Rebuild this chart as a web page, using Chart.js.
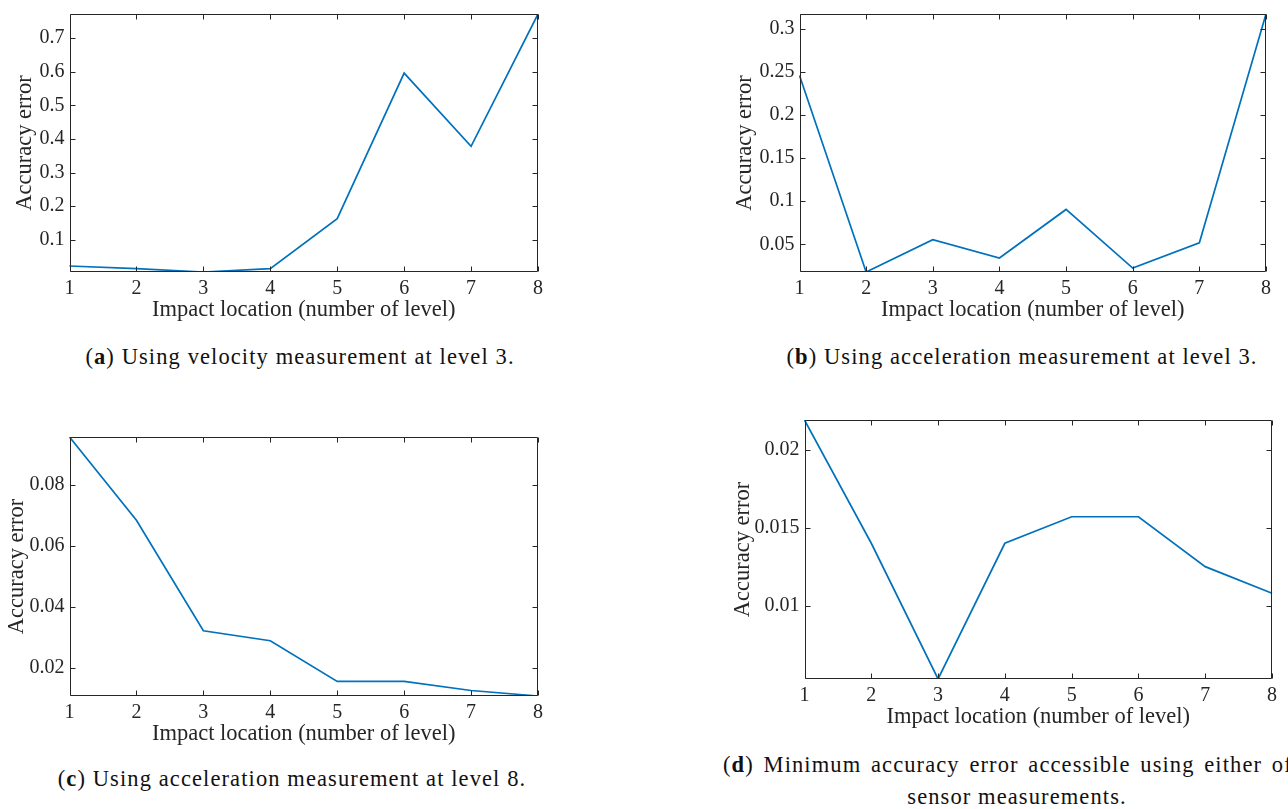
<!DOCTYPE html>
<html>
<head>
<meta charset="utf-8">
<script src="https://cdn.jsdelivr.net/npm/chart.js@4.4.0/dist/chart.umd.min.js"></script>
<style>
  html, body { margin:0; padding:0; background:#fff; width:1288px; height:809px; overflow:hidden; }
  #page { position:relative; width:1288px; height:809px; overflow:hidden; }
  #page canvas { position:absolute; }
  .cap { position:absolute; font-family:"Liberation Serif", serif; font-size:22.5px; letter-spacing:1.1px; color:#111; white-space:nowrap; line-height:26px; }
  .mid { transform:translateX(-50%); }
</style>
</head>
<body>
<div id="page">
  <canvas id="chartA"></canvas>
  <canvas id="chartB"></canvas>
  <canvas id="chartC"></canvas>
  <canvas id="chartD"></canvas>
  <div class="cap mid" style="left:300px;top:344px;">(<b>a</b>) Using velocity measurement at level 3.</div>
  <div class="cap mid" style="left:1022px;top:344px;">(<b>b</b>) Using acceleration measurement at level 3.</div>
  <div class="cap mid" style="left:292px;top:766px;">(<b>c</b>) Using acceleration measurement at level 8.</div>
  <div class="cap" style="left:723px;top:752px;word-spacing:3px;">(<b>d</b>) Minimum accuracy error accessible using either of</div>
  <div class="cap mid" style="left:1017px;top:784px;">sensor measurements.</div>
</div>
<script>
// ----- Data -----
const LEVELS = ['1','2','3','4','5','6','7','8'];
const ERR_VEL_L3 = [0.0218, 0.0139, 0.0040, 0.0139, 0.163, 0.596, 0.378, 0.772];
const ERR_ACC_L3 = [0.2458, 0.0180, 0.0554, 0.0342, 0.0905, 0.0226, 0.0519, 0.317];
const ERR_ACC_L8 = [0.0958, 0.0685, 0.0323, 0.0290, 0.0157, 0.0157, 0.0127, 0.0109];
const ERR_MIN    = [0.0219, 0.0140, 0.0053, 0.0140, 0.0157, 0.0157, 0.0125, 0.0108];
const Y_STEPS = [0.1, 0.05, 0.02, 0.005];

const X_TITLE = 'Impact location (number of level)';
const Y_TITLE = 'Accuracy error';

// ----- Layout (page pixels) -----
const FONT = '"Liberation Serif", "Times New Roman", serif';
const INK = '#262626';
const LINE = '#0072BD';
const TICK_SIZE = 20, TITLE_SIZE = 22.5;
const PAD_TOP = 20, PAD_RIGHT = 12, X_AXIS_H = 58;

// plot box [left, top, right, bottom] and y-title centre x
const PANELS = [
  { id:'chartA', data:ERR_VEL_L3, step:Y_STEPS[0], box:[69,14,538,272],  titleX:25 },
  { id:'chartB', data:ERR_ACC_L3, step:Y_STEPS[1], box:[799,14,1266,272], titleX:745 },
  { id:'chartC', data:ERR_ACC_L8, step:Y_STEPS[2], box:[69,437,538,696], titleX:17 },
  { id:'chartD', data:ERR_MIN,    step:Y_STEPS[3], box:[804,420,1272,679], titleX:743 }
];

// ----- Box with inward ticks on all four sides -----
const boxTicks = {
  id:'boxTicks',
  afterDraw(chart){
    const {ctx, chartArea:a, scales:{x, y}} = chart;
    const L = 5;
    const l = Math.round(a.left)+0.5, r = Math.round(a.right)-0.5;
    const t = Math.round(a.top)+0.5, b = Math.round(a.bottom)-0.5;
    ctx.save();
    ctx.strokeStyle = INK; ctx.lineWidth = 1;
    ctx.beginPath();
    x.ticks.forEach((_, i) => {
      const px = Math.round(x.getPixelForTick(i))+0.5;
      ctx.moveTo(px, b); ctx.lineTo(px, b-L);
      ctx.moveTo(px, t); ctx.lineTo(px, t+L);
    });
    y.ticks.forEach((_, i) => {
      const py = Math.round(y.getPixelForTick(i))+0.5;
      ctx.moveTo(l, py); ctx.lineTo(l+L, py);
      ctx.moveTo(r, py); ctx.lineTo(r-L, py);
    });
    ctx.rect(l, t, r-l, b-t);
    ctx.stroke();
    ctx.restore();
  }
};

function fmt(v){ return String(+v.toFixed(4)); }

function makeChart(p){
  const [left, top, right, bottom] = p.box;
  const cLeft = p.titleX - TITLE_SIZE*1.2/2;
  const cTop = top - PAD_TOP;
  const cv = document.getElementById(p.id);
  cv.width = right + PAD_RIGHT - cLeft;
  cv.height = bottom + X_AXIS_H - cTop;
  cv.style.left = cLeft + 'px';
  cv.style.top = cTop + 'px';
  const yW = left - cLeft;
  const noGrid = { display:false, drawTicks:false, tickLength:0 };

  return new Chart(cv.getContext('2d'), {
    type:'line',
    data:{ labels:LEVELS, datasets:[{ data:p.data, borderColor:LINE, borderWidth:1.7, pointRadius:0, tension:0, fill:false }] },
    options:{
      responsive:false, animation:false, devicePixelRatio:1,
      layout:{ padding:{ top:PAD_TOP, right:PAD_RIGHT, left:0, bottom:0 } },
      plugins:{ legend:{display:false}, tooltip:{enabled:false} },
      scales:{
        x:{
          offset:false,
          grid:noGrid, border:{display:false},
          ticks:{ color:INK, font:{family:FONT, size:TICK_SIZE}, padding:5, maxRotation:0, autoSkip:false },
          title:{ display:true, text:X_TITLE, color:INK, font:{family:FONT, size:TITLE_SIZE}, padding:{top:0, bottom:6.5} },
          afterFit(s){ s.height = X_AXIS_H; }
        },
        y:{
          min:Math.min(...p.data), max:Math.max(...p.data),
          grid:noGrid, border:{display:false},
          ticks:{ stepSize:p.step, includeBounds:false, color:INK, font:{family:FONT, size:TICK_SIZE}, padding:5, callback:fmt },
          title:{ display:true, text:Y_TITLE, color:INK, font:{family:FONT, size:TITLE_SIZE}, padding:{top:0, bottom:0} },
          afterFit(s){ s.width = yW; }
        }
      }
    },
    plugins:[boxTicks]
  });
}

PANELS.forEach(makeChart);
</script>
</body>
</html>
